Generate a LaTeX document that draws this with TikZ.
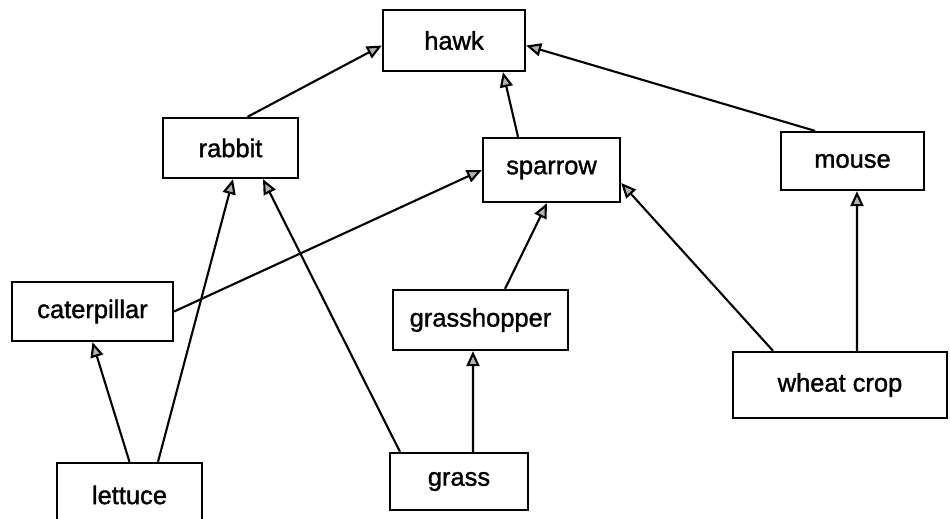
\documentclass[tikz,border=0pt]{standalone}
\usepackage{fontspec}
\setmainfont{Liberation Sans}
\newfontfamily\labelfont[FakeBold=1.3]{Liberation Sans}
\usetikzlibrary{arrows.meta}

\begin{document}
\begin{tikzpicture}[x=0.02cm,y=-0.02cm,
  animal/.style={draw,line width=1.3pt,inner sep=0pt,font=\labelfont\fontsize{14.5}{16}\selectfont},
  eats/.style={line width=1.2pt,-{Triangle[length=3mm,width=2.6mm,fill=gray!60]}}]
  \useasboundingbox (0,0) rectangle (950,519);
  \clip (0,0) rectangle (950,519);
  \node[animal,minimum width=2.84cm,minimum height=1.22cm] (hawk) at (454,40.5) {hawk};
  \node[animal,minimum width=2.70cm,minimum height=1.20cm] (rabbit) at (230.5,148) {rabbit};
  \node[animal,minimum width=2.74cm,minimum height=1.28cm] (sparrow) at (551.5,170) {sparrow};
  \node[animal,minimum width=2.86cm,minimum height=1.16cm] (mouse) at (852.5,161) {mouse};
  \node[animal,minimum width=3.22cm,minimum height=1.18cm] (caterpillar) at (92.5,311.5) {caterpillar};
  \node[animal,minimum width=3.50cm,minimum height=1.20cm] (grasshopper) at (480.5,320) {grasshopper};
  \node[animal,minimum width=4.28cm,minimum height=1.32cm] (wheat) at (840,385) {wheat crop};
  \node[animal,minimum width=2.90cm,minimum height=1.28cm] (lettuce) at (129.5,495) {lettuce};
  \node[animal,minimum width=2.76cm,minimum height=1.14cm] (grass) at (459,481.5) {grass};
  \draw[eats] ([xshift=0.34cm]rabbit.north) -- ([yshift=-0.1cm]hawk.west);
  \draw[eats] ([xshift=-0.67cm]sparrow.north) -- ([xshift=0.98cm]hawk.south);
  \draw[eats] ([xshift=-0.75cm]mouse.north) -- ([yshift=-0.1cm]hawk.east);
  \draw[eats] (caterpillar.east) -- (sparrow.west);
  \draw[eats] (lettuce.north) -- (caterpillar.south);
  \draw[eats] ([xshift=0.57cm]lettuce.north) -- ([xshift=0.05cm]rabbit.south);
  \draw[eats] ([xshift=-1.18cm]grass.north) -- ([xshift=0.65cm]rabbit.south);
  \draw[eats] ([xshift=0.28cm]grass.north) -- ([xshift=-0.15cm]grasshopper.south);
  \draw[eats] ([xshift=0.49cm]grasshopper.north) -- ([xshift=-0.09cm]sparrow.south);
  \draw[eats] ([xshift=-1.34cm]wheat.north) -- ([yshift=-0.26cm]sparrow.east);
  \draw[eats] ([xshift=0.34cm]wheat.north) -- ([xshift=0.09cm]mouse.south);
\end{tikzpicture}
\end{document}
